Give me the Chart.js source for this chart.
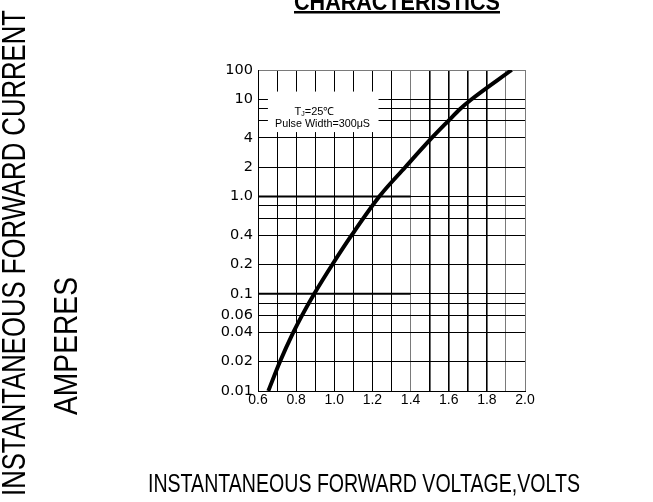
<!DOCTYPE html>
<html>
<head>
<meta charset="utf-8">
<script src="https://cdn.jsdelivr.net/npm/chart.js@4.4.1/dist/chart.umd.min.js"></script>
<style>
  html, body { margin: 0; padding: 0; background: #fff; }
  #wrap { width: 653px; height: 502px; }
</style>
</head>
<body>
<div id="wrap"><canvas id="ivChart" width="653" height="502"></canvas></div>
<script>
// forward voltage (V) vs forward current (A)
const forwardVoltage = [0.654, 0.715, 0.785, 0.831, 0.895, 0.990, 1.091, 1.236, 1.372, 1.511, 1.598, 1.661, 1.720, 1.930];
const forwardCurrent = [0.01, 0.02, 0.04, 0.06, 0.1, 0.2, 0.4, 1.0, 2, 4, 6, 8, 10, 20];

// heavier reference lines at 1.0 A and 0.1 A, running from 0.6 V to 1.4 V
const refLineVolts = [0.6, 1.4];
const refLineAmps = [1.0, 0.1];

// grid + tick labels
const yGridValues = [0.01, 0.02, 0.04, 0.06, 0.08, 0.1, 0.2, 0.4, 0.6, 0.8, 1, 2, 4, 6, 8, 10, 20];
const yLabelValues = [0.01, 0.02, 0.04, 0.06, 0.1, 0.2, 0.4, 1, 2, 4, 10, 20];
const yLabelTexts = ['0.01', '0.02', '0.04', '0.06', '0.1', '0.2', '0.4', '1.0', '2', '4', '10', '100'];
const xLabelValues = [0.6, 0.8, 1.0, 1.2, 1.4, 1.6, 1.8, 2.0];
const xLabelTexts = ['0.6', '0.8', '1.0', '1.2', '1.4', '1.6', '1.8', '2.0'];

const FONT = "'Liberation Sans', Arial, sans-serif";

function findLabel(values, texts, v) {
    for (let i = 0; i < values.length; i++) {
        if (Math.abs(values[i] - v) < 1e-6 * Math.max(1, values[i])) return texts[i];
    }
    return '';
}

const curvePoints = forwardVoltage.map((v, i) => ({ x: v, y: forwardCurrent[i] }));
const refDatasets = refLineAmps.map(a => ({
    data: refLineVolts.map(v => ({ x: v, y: a })),
    borderColor: '#000',
    borderWidth: 2,
    pointRadius: 0,
    fill: false
}));

// white note box + all the free text around the plot
const textPlugin = {
    id: 'texts',
    beforeDatasetsDraw(chart) {
        const ctx = chart.ctx;
        const xs = chart.scales.x, ys = chart.scales.y;
        const x0 = xs.getPixelForValue(0.652), x1 = xs.getPixelForValue(1.232);
        const y0 = ys.getPixelForValue(12.0), y1 = ys.getPixelForValue(4.6);
        ctx.save();
        ctx.fillStyle = '#fff';
        ctx.fillRect(x0, y0, x1 - x0, y1 - y0);
        ctx.fillStyle = '#000';
        ctx.textBaseline = 'alphabetic';
        // T_J=25℃
        ctx.font = '11px ' + FONT;
        const tW = ctx.measureText('T').width;
        ctx.font = '7px ' + FONT;
        const jW = ctx.measureText('J').width;
        ctx.font = '11px ' + FONT;
        const restW = ctx.measureText('=25℃').width;
        let tx = 314.5 - (tW + jW + restW) / 2;
        ctx.textAlign = 'left';
        ctx.fillText('T', tx, 115);
        ctx.font = '7px ' + FONT;
        ctx.fillText('J', tx + tW, 116);
        ctx.font = '11px ' + FONT;
        ctx.fillText('=25℃', tx + tW + jW, 115);
        ctx.textAlign = 'center';
        ctx.fillText('Pulse Width=300\u03bcS', 322.5, 127, 95);
        ctx.restore();
    },
    afterDraw(chart) {
        const ctx = chart.ctx;
        ctx.save();
        ctx.fillStyle = '#000';
        ctx.textAlign = 'center';
        ctx.textBaseline = 'alphabetic';

        // title, cut off at the top edge
        ctx.font = 'bold 24px ' + FONT;
        ctx.fillText('CHARACTERISTICS', 397, 9.5, 206);
        ctx.fillRect(294, 11, 206, 2.5);

        // x title
        ctx.font = '25px ' + FONT;
        ctx.fillText('INSTANTANEOUS FORWARD VOLTAGE,VOLTS', 364, 492, 432);

        // y titles
        ctx.font = '33px ' + FONT;
        ctx.save();
        ctx.translate(25, 253);
        ctx.rotate(-Math.PI / 2);
        ctx.fillText('INSTANTANEOUS FORWARD CURRENT', 0, 0, 486);
        ctx.restore();
        ctx.save();
        ctx.translate(77, 346);
        ctx.rotate(-Math.PI / 2);
        ctx.fillText('AMPERES', 0, 0, 138);
        ctx.restore();
        ctx.restore();
    }
};

const xGridColor = ctx => {
    const v = Math.round(ctx.tick.value * 10) / 10;
    if (v === 1.4 || v === 1.9 || v === 2.0) return '#7a7a7a';
    return '#000';
};
const xGridWidth = ctx => {
    const v = Math.round(ctx.tick.value * 10) / 10;
    return (v >= 1.5 && v <= 1.8) ? 1.6 : 1;
};

new Chart(document.getElementById('ivChart'), {
    type: 'line',
    data: {
        datasets: [
            {
                data: curvePoints,
                borderColor: '#000',
                borderWidth: 4,
                pointRadius: 0,
                fill: false,
                cubicInterpolationMode: 'monotone',
                borderCapStyle: 'butt'
            },
            ...refDatasets
        ]
    },
    options: {
        responsive: false,
        animation: false,
        events: [],
        layout: { padding: { left: 190, right: 128, top: 70, bottom: 80 } },
        plugins: {
            legend: { display: false },
            tooltip: { enabled: false }
        },
        scales: {
            x: {
                type: 'linear',
                min: 0.6,
                max: 2.0,
                ticks: {
                    stepSize: 0.1,
                    autoSkip: false,
                    maxRotation: 0,
                    padding: 1,
                    color: '#000',
                    font: { family: FONT, size: 14 },
                    callback: v => findLabel(xLabelValues, xLabelTexts, v)
                },
                grid: { color: xGridColor, lineWidth: xGridWidth, drawTicks: false },
                border: { color: '#000', width: 1 },
                afterFit: s => { s.height = 31; }
            },
            y: {
                type: 'logarithmic',
                min: 0.01,
                max: 20,
                afterBuildTicks: s => { s.ticks = yGridValues.map(v => ({ value: v })); },
                ticks: {
                    autoSkip: false,
                    padding: 5,
                    color: '#000',
                    font: { family: "'DejaVu Sans', sans-serif", size: 14.5 },
                    callback: v => findLabel(yLabelValues, yLabelTexts, v)
                },
                grid: {
                    color: ctx => ctx.tick.value === 20 ? '#7a7a7a' : '#000',
                    lineWidth: 1,
                    drawTicks: false
                },
                border: { color: '#000', width: 1 },
                afterFit: s => { s.width = 68; }
            }
        }
    },
    plugins: [textPlugin]
});
</script>
</body>
</html>
